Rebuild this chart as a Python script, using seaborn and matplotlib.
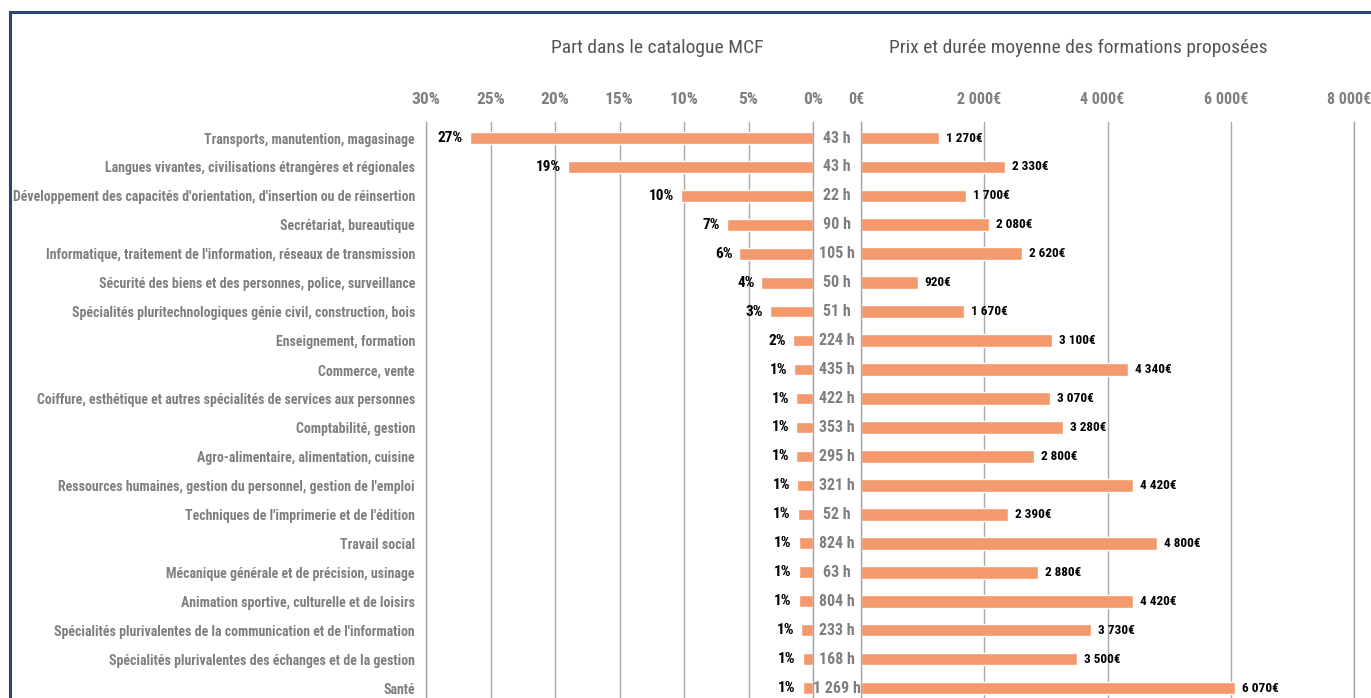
import numpy as np
import pandas as pd
import matplotlib.pyplot as plt
import matplotlib.patches as mpatches
import matplotlib.transforms as mtransforms
import seaborn as sns

# Data
categories = [
    "Transports, manutention, magasinage",
    "Langues vivantes, civilisations étrangères et régionales",
    "Développement des capacités d'orientation, d'insertion ou de réinsertion",
    "Secrétariat, bureautique",
    "Informatique, traitement de l'information, réseaux de transmission",
    "Sécurité des biens et des personnes, police, surveillance",
    "Spécialités pluritechnologiques génie civil, construction, bois",
    "Enseignement, formation",
    "Commerce, vente",
    "Coiffure, esthétique et autres spécialités de services aux personnes",
    "Comptabilité, gestion",
    "Agro-alimentaire, alimentation, cuisine",
    "Ressources humaines, gestion du personnel, gestion de l'emploi",
    "Techniques de l'imprimerie et de l'édition",
    "Travail social",
    "Mécanique générale et de précision, usinage",
    "Animation sportive, culturelle et de loisirs",
    "Spécialités plurivalentes de la communication et de l'information",
    "Spécialités plurivalentes des échanges et de la gestion",
    "Santé",
]
part_pct = [26.6, 19.0, 10.2, 6.7, 5.7, 4.0, 3.3, 1.55, 1.45, 1.3,
            1.3, 1.3, 1.25, 1.2, 1.1, 1.1, 1.1, 0.9, 0.8, 0.8]
part_label = [27, 19, 10, 7, 6, 4, 3, 2, 1, 1, 1, 1, 1, 1, 1, 1, 1, 1, 1, 1]
heures = [43, 43, 22, 90, 105, 50, 51, 224, 435, 422,
          353, 295, 321, 52, 824, 63, 804, 233, 168, 1269]
prix = [1270, 2330, 1700, 2080, 2620, 920, 1670, 3100, 4340, 3070,
        3280, 2800, 4420, 2390, 4800, 2880, 4420, 3730, 3500, 6070]
pct_ticks = [0, 5, 10, 15, 20, 25, 30]
prix_ticks = [0, 2000, 4000, 6000, 8000]

sns.set_theme(style='white')
plt.rcParams['font.family'] = ['Roboto Condensed', 'Roboto', 'DejaVu Sans']
plt.rcParams['font.stretch'] = 'condensed'

orange = '#f4996b'
grey_txt = '#7f7f7f'
grid_col = '#a8a8a8'


def fmt_num(v):
    return f"{v:,}".replace(',', ' ')


df = pd.DataFrame({'cat': categories, 'part': part_pct, 'prix': prix})

fig = plt.figure(figsize=(13.71, 6.98), dpi=100)
W, H = 1371, 698
ax1 = fig.add_axes([426 / W, 0, 387 / W, 1 - 122 / H])
ax2 = fig.add_axes([861 / W, 0, 493 / W, 1 - 122 / H])

sns.barplot(data=df, x='part', y='cat', ax=ax1, color=orange, width=0.4,
            orient='h', saturation=1)
sns.barplot(data=df, x='prix', y='cat', ax=ax2, color=orange, width=0.44,
            orient='h', saturation=1)

n = len(categories)
for ax in (ax1, ax2):
    ax.set_ylim(n - 1 + 0.345, -0.553)
    ax.xaxis.tick_top()
    ax.tick_params(axis='x', length=0, pad=11, labelsize=12.5, labelcolor=grey_txt)
    ax.grid(axis='x', color=grid_col, linewidth=1)
    ax.set_axisbelow(True)
    ax.set_xlabel('')
    ax.set_ylabel('')
    for s in ['top', 'bottom']:
        ax.spines[s].set_visible(False)
    for s in ['left', 'right']:
        ax.spines[s].set_color(grid_col)
        ax.spines[s].set_linewidth(1)

# left panel: share of catalogue
ax1.set_xlim(30, 0)
ax1.set_xticks(pct_ticks, [f"{t}%" for t in pct_ticks], fontweight='bold')
ax1.set_yticks(range(n), categories, fontweight='bold', color=grey_txt, fontsize=10)
ax1.tick_params(axis='y', length=0, pad=8)

# right panel: price
ax2.set_xlim(0, 8000)
ax2.set_xticks(prix_ticks, [fmt_num(t) + '€' for t in prix_ticks], fontweight='bold')
ax2.tick_params(axis='x', labelsize=11.5)
ax2.tick_params(axis='y', left=False, labelleft=False)
shift = mtransforms.ScaledTranslation(-5 / 100, 0, fig.dpi_scale_trans)
for lbl in ax2.get_xticklabels():
    lbl.set_transform(lbl.get_transform() + shift)

for i, (v, lab, h, p) in enumerate(zip(part_pct, part_label, heures, prix)):
    ax1.annotate(f"{lab}%", xy=(v, i), xytext=(-7, 0), textcoords='offset pixels',
                 ha='right', va='center', fontweight='bold', fontsize=11, color='black')
    ax1.annotate(fmt_num(h) + ' h', xy=(0, i), xytext=(24, 0), textcoords='offset pixels',
                 ha='center', va='center', fontweight='bold', fontsize=11.5, color=grey_txt)
    ax2.annotate(fmt_num(p) + '€', xy=(p, i), xytext=(7, 0), textcoords='offset pixels',
                 ha='left', va='center', fontweight='bold', fontsize=9.5, color='black')

fig.text(657 / W, 1 - 48 / H, 'Part dans le catalogue MCF', ha='center', va='center',
         fontsize=14, color='#555555')
fig.text(1078 / W, 1 - 48 / H, 'Prix et durée moyenne des formations proposées',
         ha='center', va='center', fontsize=14, color='#555555')

# dark frame around the figure (left and top visible)
frame = mpatches.Rectangle((10 / W, -0.5), 2, 1 - 12 / H + 0.5, fill=False,
                           edgecolor='#2b4673', linewidth=2.2, transform=fig.transFigure)
fig.add_artist(frame)

fig.savefig('out.png', dpi=100)
